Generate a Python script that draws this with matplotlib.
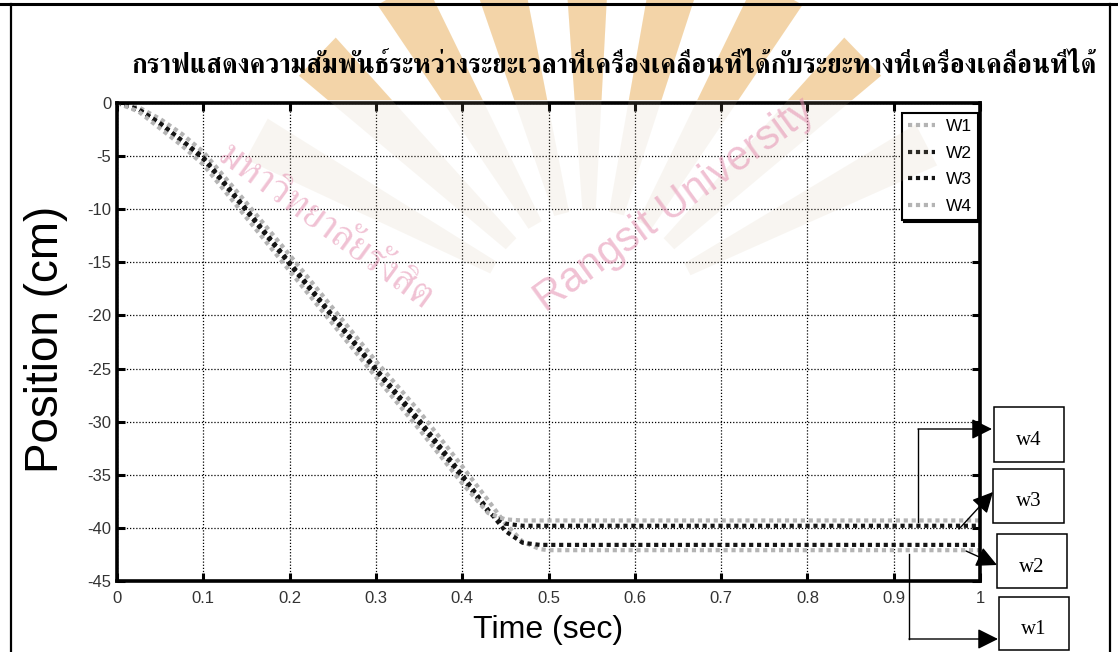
import matplotlib
matplotlib.use("Agg")
import numpy as np
import matplotlib.pyplot as plt
from matplotlib import font_manager
from matplotlib import patheffects
from matplotlib.ft2font import FT2Font
from matplotlib.lines import Line2D
from matplotlib.patches import Rectangle, FancyArrowPatch, Polygon

# ---- data -------------------------------------------------------------
time_s = [0, 0.025, 0.05, 0.075, 0.1, 0.15, 0.2, 0.25, 0.3, 0.35, 0.4,
          0.43, 0.45, 0.47, 0.49, 0.5, 0.6, 0.7, 0.8, 0.9, 1.0]
w1 = [0, -0.4, -1.5, -2.9, -4.6, -9.4, -14.3, -19.3, -24.3, -29.0, -34.2,
      -37.4, -39.6, -41.3, -42.0, -42.1, -42.1, -42.1, -42.1, -42.1, -42.1]
w2 = [0, -0.6, -1.9, -3.5, -5.1, -10.0, -15.0, -20.0, -25.0, -29.8, -35.0,
      -38.3, -40.3, -41.4, -41.6, -41.6, -41.6, -41.6, -41.6, -41.6, -41.6]
w3 = [0, -0.6, -2.0, -3.6, -5.3, -10.2, -15.2, -20.2, -25.2, -30.1, -35.3,
      -38.5, -39.6, -39.8, -39.8, -39.8, -39.8, -39.8, -39.8, -39.8, -39.8]
w4 = [0, -0.8, -2.4, -4.0, -5.8, -10.8, -15.8, -20.8, -25.8, -30.7, -35.8,
      -38.6, -39.2, -39.3, -39.3, -39.3, -39.3, -39.3, -39.3, -39.3, -39.3]
series_names = ["W1", "W2", "W3", "W4"]
series_colors = ["#b4b4b4", "#151515", "#151515", "#b4b4b4"]
x_ticks = [0, 0.1, 0.2, 0.3, 0.4, 0.5, 0.6, 0.7, 0.8, 0.9, 1]
y_ticks = [0, -5, -10, -15, -20, -25, -30, -35, -40, -45]
title_text = "กราฟแสดงความสัมพันธ์ระหว่างระยะเวลาที่เครื่องเคลื่อนที่ได้กับระยะทางที่เครื่องเคลื่อนที่ได้"
box_labels = ["w4", "w3", "w2", "w1"]
watermark_th = "มหาวิทยาลัยรังสิต"
watermark_en = "Rangsit University"


def thai_family():
    """Pick an installed family covering Thai; serif faces first."""
    fams = {}
    for fe in font_manager.fontManager.ttflist:
        try:
            if 0x0E01 in FT2Font(fe.fname).get_charmap():
                w = fe.weight
                if isinstance(w, str):
                    w = font_manager.weight_dict.get(w, 400)
                fams.setdefault(fe.name, set()).add(int(w))
        except Exception:
            pass
    if not fams:
        return None, False
    ranked = sorted(fams, key=lambda n: ("Serif" not in n and "Looped" not in n,
                                         max(fams[n]) < 600, n))
    best = ranked[0]
    return best, max(fams[best]) >= 600


TH, TH_HAS_BOLD = thai_family()
SANS = "Liberation Sans"

W, H = 1118, 652
fig = plt.figure(figsize=(W / 100, H / 100), dpi=100)


def fx(px):
    return px / W


def fy(py):
    return 1 - py / H


# ---- faint sun-ray emblem in the background ----------------------------
cx, cy = 590, 320
ray_angles = [(24, 31), (40, 48), (56, 64), (72, 80), (87, 94), (101, 109),
              (116, 124), (132, 140), (148, 155)]
for a0, a1 in ray_angles:
    r0, r1 = 110, 380
    t0, t1 = np.radians(a0), np.radians(a1)
    pts = [(cx + r0 * np.cos(t0), cy - r0 * np.sin(t0)),
           (cx + r1 * np.cos(t0), cy - r1 * np.sin(t0)),
           (cx + r1 * np.cos(t1), cy - r1 * np.sin(t1)),
           (cx + r0 * np.cos(t1), cy - r0 * np.sin(t1))]
    pts_f = [(fx(px), fy(py)) for px, py in pts]
    fig.add_artist(Polygon(pts_f, closed=True, facecolor="#cdb898",
                           edgecolor="none", alpha=0.13, zorder=0.1))
    top = Polygon(pts_f, closed=True, facecolor="#efb560",
                  edgecolor="none", alpha=0.5, zorder=0.2)
    fig.add_artist(top)
    top.set_clip_path(Rectangle((0, fy(100)), 1, 1 - fy(100) + 0.01,
                                transform=fig.transFigure))

# outer cell border
fig.add_artist(Line2D([fx(0), fx(W)], [fy(4), fy(4)], color="k", lw=2.2))
fig.add_artist(Line2D([fx(11), fx(11)], [fy(4), fy(H)], color="k", lw=1.6))
fig.add_artist(Line2D([fx(1110), fx(1110)], [fy(4), fy(H)], color="k", lw=1.6))

# title
title_fam = [TH, "DejaVu Sans"] if TH else ["DejaVu Sans"]
title = fig.text(fx(614), fy(66), title_text, ha="center", va="center",
                 fontsize=19.2, fontweight="bold", family=title_fam, zorder=5)
if not TH_HAS_BOLD:
    title.set_path_effects([patheffects.withStroke(linewidth=1.0, foreground="k")])

ax = fig.add_axes([fx(117), fy(581), fx(980 - 117), (581 - 103) / H])
ax.patch.set_alpha(0)
for name, col, ys in zip(series_names, series_colors, [w1, w2, w3, w4]):
    ax.plot(time_s, ys, color=col, lw=3.0, linestyle=(0, (1, 0.9)),
            dash_capstyle="butt", label=name)

ax.set_xlim(0, 1)
ax.set_ylim(-45, 0)
ax.set_xticks(x_ticks)
ax.set_xticklabels([f"{t:g}" for t in x_ticks])
ax.set_yticks(y_ticks)
ax.set_yticklabels([f"{t:g}" for t in y_ticks])
ax.grid(True, color="k", linestyle=(0, (1, 1.5)), linewidth=0.9)
ax.tick_params(direction="in", length=6, width=2.2, top=True, right=True,
               labelsize=12, pad=4)
ax.tick_params(axis="x", pad=7)
for lab in ax.get_xticklabels() + ax.get_yticklabels():
    lab.set_family(SANS)
    lab.set_color("#333333")
for sp in ax.spines.values():
    sp.set_linewidth(2.6)
ax.set_xlabel("Time (sec)", fontsize=23, family=SANS)
ax.xaxis.set_label_coords(0.5, -0.071)
ax.set_ylabel("Position (cm)", fontsize=33, family=SANS)
ax.yaxis.set_label_coords(-0.057, 0.506)

leg = ax.legend(loc="upper right", bbox_to_anchor=(0.9977, 0.979),
                borderaxespad=0,
                prop={"family": SANS, "size": 12.5}, handlelength=1.6,
                labelspacing=0.66, borderpad=0.35, handletextpad=0.6,
                fancybox=False, framealpha=1, edgecolor="k",
                shadow={"ox": 1.5, "oy": -1.5, "color": "k", "alpha": 1})
leg.get_frame().set_linewidth(1.5)

# watermark lettering
fig.text(fx(325), fy(228), watermark_th, rotation=-36, ha="center", va="center",
         fontsize=29, color="#e58fb0", alpha=0.55, zorder=6,
         family=title_fam)
fig.text(fx(675), fy(205), watermark_en, rotation=36, ha="center", va="center",
         fontsize=30, color="#e58fb0", alpha=0.55, zorder=6, family=SANS)

# annotation boxes on the right
boxes = {"w4": (994, 407, 1064, 462), "w3": (993, 469, 1064, 523),
         "w2": (997, 534, 1067, 588), "w1": (999, 597, 1069, 650)}
for lab in box_labels:
    x0, y0, x1, y1 = boxes[lab]
    fig.add_artist(Rectangle((fx(x0), fy(y1)), fx(x1 - x0), (y1 - y0) / H,
                             fill=False, edgecolor="k", lw=1.1))
    fig.text(fx((x0 + x1) / 2), fy((y0 + y1) / 2 + 6), lab, ha="center",
             va="center", fontsize=15, family="Liberation Serif")

arrow_paths = [
    [(918, 522), (918, 429), (992, 429)],
    [(959, 529), (993, 492)],
    [(966, 551), (997, 565)],
    [(909, 554), (909, 639), (998, 639)],
]
for pts in arrow_paths:
    for (xa, ya), (xb, yb) in zip(pts[:-2], pts[1:-1]):
        fig.add_artist(Line2D([fx(xa), fx(xb)], [fy(ya), fy(yb)], color="k", lw=1.0))
    (xa, ya), (xb, yb) = pts[-2], pts[-1]
    fig.add_artist(FancyArrowPatch((fx(xa), fy(ya)), (fx(xb), fy(yb)),
                                   transform=fig.transFigure,
                                   arrowstyle="-|>,head_length=0.9,head_width=0.45",
                                   mutation_scale=14, color="k", lw=1.0,
                                   shrinkA=0, shrinkB=0))

fig.savefig("out.png", dpi=100)
